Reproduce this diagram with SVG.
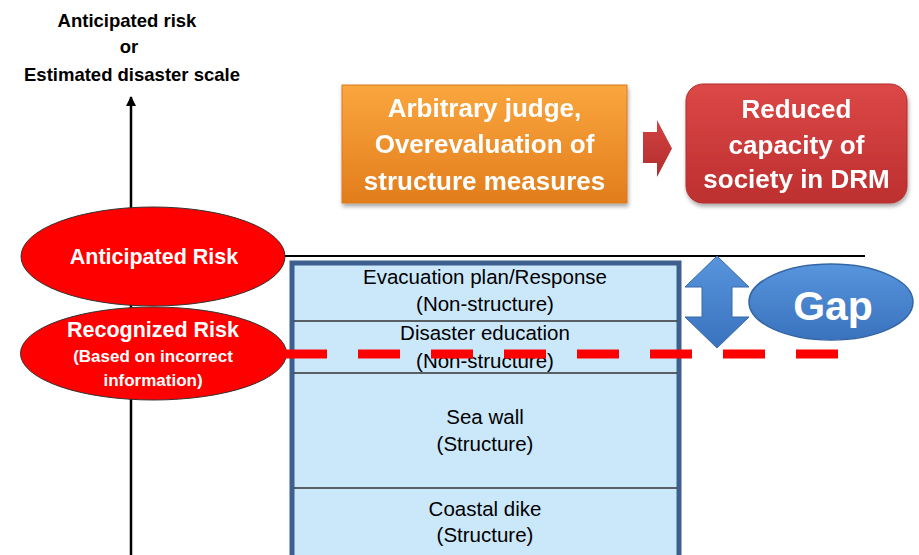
<svg xmlns="http://www.w3.org/2000/svg" width="919" height="555" viewBox="0 0 919 555">
<defs>
<linearGradient id="gOrange" x1="0" y1="0" x2="0" y2="1">
<stop offset="0" stop-color="#faa63e"/><stop offset="1" stop-color="#e27d1c"/>
</linearGradient>
<linearGradient id="gRed" x1="0" y1="0" x2="0" y2="1">
<stop offset="0" stop-color="#dc4847"/><stop offset="1" stop-color="#bd2f2f"/>
</linearGradient>
<linearGradient id="gArrowR" x1="0" y1="0" x2="0" y2="1">
<stop offset="0" stop-color="#d44242"/><stop offset="1" stop-color="#b02d2d"/>
</linearGradient>
<linearGradient id="gBlue" x1="0" y1="0" x2="0" y2="1">
<stop offset="0" stop-color="#5795dd"/><stop offset="1" stop-color="#3a72bd"/>
</linearGradient>
<filter id="shadow" x="-10%" y="-10%" width="120%" height="130%">
<feGaussianBlur in="SourceAlpha" stdDeviation="2"/><feOffset dx="1" dy="3" result="o"/>
<feComponentTransfer><feFuncA type="linear" slope="0.35"/></feComponentTransfer>
<feMerge><feMergeNode/><feMergeNode in="SourceGraphic"/></feMerge>
</filter>
<marker id="axisHead" viewBox="0 0 10 10" refX="9" refY="5" markerWidth="10" markerHeight="10" markerUnits="userSpaceOnUse" orient="auto">
<path d="M0,0 L10,5 L0,10 Z" fill="#000"/>
</marker>
</defs>
<style>
.title{font-family:"Liberation Sans",Arial,sans-serif;font-weight:bold;font-size:18.5px;fill:#000;text-anchor:middle}
.big{font-family:"Liberation Sans",Arial,sans-serif;font-weight:bold;font-size:26px;fill:#fff;text-anchor:middle}
.ell{font-family:"Liberation Sans",Arial,sans-serif;font-weight:bold;fill:#fff;text-anchor:middle}
.cell{font-family:"Liberation Sans",Arial,sans-serif;font-size:20.5px;fill:#000;text-anchor:middle}
.div{stroke:#333;stroke-width:1.5}
</style>
<rect width="919" height="555" fill="#fff"/>

<g id="axis-title">
<text class="title" x="127" y="27">Anticipated risk</text>
<text class="title" x="129" y="53">or</text>
<text class="title" x="132" y="81">Estimated disaster scale</text>
</g>

<g id="connectors">
<line x1="131" y1="555" x2="131" y2="97" stroke="#000" stroke-width="2.5" marker-end="url(#axisHead)"/>
<line x1="285" y1="256" x2="865" y2="256" stroke="#000" stroke-width="2"/>
<polygon points="643,132 657,132 657,120 672,148.5 657,177 657,163 643,163" fill="url(#gArrowR)"/>
</g>

<g id="measures">
<rect x="292" y="263" width="387" height="300" fill="#cbe8fb" stroke="#3c5f8f" stroke-width="5"/>
<line class="div" x1="294" y1="321" x2="677" y2="321"/>
<line class="div" x1="294" y1="373" x2="677" y2="373"/>
<line class="div" x1="294" y1="488" x2="677" y2="488"/>
<text class="cell" x="485" y="284">Evacuation plan/Response</text>
<text class="cell" x="485" y="311">(Non-structure)</text>
<text class="cell" x="485" y="340">Disaster education</text>
<text class="cell" x="485" y="368">(Non-structure)</text>
<text class="cell" x="485" y="424">Sea wall</text>
<text class="cell" x="485" y="451">(Structure)</text>
<text class="cell" x="485" y="516">Coastal dike</text>
<text class="cell" x="485" y="542">(Structure)</text>
</g>

<g id="anticipated-risk">
<ellipse cx="153" cy="256.5" rx="132" ry="49.5" fill="#ff0000" stroke="#333" stroke-width="1"/>
<text class="ell" x="154" y="264" font-size="21.5">Anticipated Risk</text>
</g>

<g id="recognized-risk">
<ellipse cx="153.5" cy="353.5" rx="133" ry="46.5" fill="#ff0000" stroke="#333" stroke-width="1"/>
<text class="ell" x="153" y="337" font-size="21.5">Recognized Risk</text>
<text class="ell" x="153" y="362" font-size="17">(Based on incorrect</text>
<text class="ell" x="153" y="386" font-size="17">information)</text>
</g>

<g id="recognized-line">
<line x1="285" y1="354" x2="838" y2="354" stroke="#ff0000" stroke-width="9" stroke-dasharray="42 31"/>
</g>

<g id="gap-arrow">
<polygon points="717,256 749,287 732,287 732,317 749,317 717,348 685,317 702,317 702,287 685,287" fill="url(#gBlue)" stroke="#3868a8" stroke-width="1"/>
</g>

<g id="gap">
<ellipse cx="831" cy="302" rx="82" ry="38" fill="url(#gBlue)" stroke="#3465a4" stroke-width="1.5"/>
<text class="ell" x="833" y="320" font-size="41">Gap</text>
</g>

<g id="arbitrary-judge" filter="url(#shadow)">
<rect x="342" y="85" width="285" height="118" fill="url(#gOrange)" stroke="#d97a1e" stroke-width="1"/>
<text class="big" x="484.5" y="117">Arbitrary judge,</text>
<text class="big" x="484.5" y="153">Overevaluation of</text>
<text class="big" x="484.5" y="190">structure measures</text>
</g>

<g id="reduced-capacity" filter="url(#shadow)">
<rect x="686" y="84" width="221" height="119" rx="17" fill="url(#gRed)" stroke="#b52d2d" stroke-width="1"/>
<text class="big" x="796.5" y="118">Reduced</text>
<text class="big" x="796.5" y="154">capacity of</text>
<text class="big" x="796.5" y="188">society in DRM</text>
</g>
</svg>
